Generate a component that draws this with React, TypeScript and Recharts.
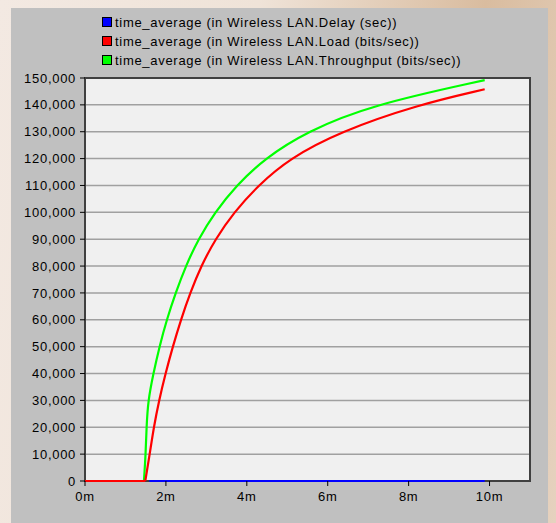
import React from 'react';
import { LineChart, Line, XAxis, YAxis, CartesianGrid, ReferenceArea } from 'recharts';

// minutes / value pairs
const delayTime = [1.59, 9.88];
const delayValue = [0, 0];

const loadTime = [0, 1.49, 1.6, 1.7, 1.83, 1.99, 2.17, 2.37, 2.6, 2.87, 3.22, 3.68, 4.28, 5.05, 6.3, 8.22, 9.88];
const loadValue = [0, 0, 10000, 20000, 30000, 40000, 50000, 60000, 70000, 80000, 90000, 100000, 110000, 120000, 130000, 140000, 145800];

const tputTime = [0, 1.457, 1.5, 1.52, 1.56, 1.69, 1.84, 2.02, 2.24, 2.49, 2.8, 3.21, 3.74, 4.44, 5.47, 7.09, 9.88];
const tputValue = [0, 0, 10000, 20000, 30000, 40000, 50000, 60000, 70000, 80000, 90000, 100000, 110000, 120000, 130000, 140000, 149200];

const xTicks = [0, 2, 4, 6, 8, 10];
const yTicks = [0, 10000, 20000, 30000, 40000, 50000, 60000, 70000, 80000, 90000, 100000, 110000, 120000, 130000, 140000, 150000];

const legendItems = [
  { label: 'time_average (in Wireless LAN.Delay (sec))', color: '#0000ff' },
  { label: 'time_average (in Wireless LAN.Load (bits/sec))', color: '#ff0000' },
  { label: 'time_average (in Wireless LAN.Throughput (bits/sec))', color: '#00ff00' },
];

const toPoints = (t: number[], v: number[]) => t.map((x, i) => ({ t: x, v: v[i] }));

const delayData = toPoints(delayTime, delayValue);
const loadData = toPoints(loadTime, loadValue);
const tputData = toPoints(tputTime, tputValue);

// flat lead-in drawn straight, the rise drawn as a smooth curve
const flat = (d: { t: number; v: number }[]) => d.slice(0, 2);
const rise = (d: { t: number; v: number }[]) => d.slice(1);

const font = '"Liberation Sans", Arial, sans-serif';
const tickStyle = { fill: '#000', fontSize: 13, fontFamily: font, letterSpacing: 0.7 };

const lineProps = { dataKey: 'v', strokeWidth: 2.2, dot: false, activeDot: false, isAnimationActive: false } as const;

export default function App() {
  return (
    <div
      style={{
        position: 'absolute',
        left: 0,
        top: 0,
        width: 556,
        height: 523,
        overflow: 'hidden',
        background: 'linear-gradient(100deg, #f3e9e2 0%, #efe3d8 40%, #d9bc9f 75%, #e6d2bf 100%)',
        fontFamily: font,
      }}
    >
      <div style={{ position: 'absolute', left: 11, top: 8, width: 537, height: 520, background: '#c0c0c0' }} />
      {legendItems.map((it, i) => (
        <div
          key={it.label}
          style={{
            position: 'absolute',
            left: 102,
            top: 14 + i * 19,
            height: 16,
            display: 'flex',
            alignItems: 'center',
            fontSize: 13,
            letterSpacing: 0.7,
            color: '#000',
            whiteSpace: 'nowrap',
          }}
        >
          <span
            style={{
              display: 'inline-block',
              width: 8,
              height: 8,
              background: it.color,
              border: '1px solid #000',
              marginRight: 3,
            }}
          />
          {it.label}
        </div>
      ))}
      <div style={{ position: 'absolute', left: 0, top: 0 }}>
        <LineChart width={556} height={523} margin={{ top: 78, right: 26, left: 0, bottom: 12 }}>
          <CartesianGrid vertical={false} fill="#f0f0f0" stroke="#a0a0a0" strokeWidth={1.5} />
          <ReferenceArea x1={0} x2={11} y1={0} y2={150000} fill="none" stroke="#404040" strokeWidth={2} ifOverflow="visible" />
          <XAxis
            type="number"
            dataKey="t"
            domain={[0, 11]}
            ticks={xTicks}
            tickFormatter={(v: number) => `${v}m`}
            height={30}
            tickSize={5}
            tickMargin={6}
            axisLine={false}
            tickLine={{ stroke: '#000' }}
            tick={tickStyle}
          />
          <YAxis
            type="number"
            dataKey="v"
            domain={[0, 150000]}
            ticks={yTicks}
            tickFormatter={(v: number) => v.toLocaleString('en-US')}
            width={85}
            tickSize={5}
            tickMargin={4}
            axisLine={false}
            tickLine={{ stroke: '#000' }}
            tick={tickStyle}
            interval={0}
          />
          <Line {...lineProps} data={flat(tputData)} type="linear" stroke="#00ff00" />
          <Line {...lineProps} data={rise(tputData)} type="basis" stroke="#00ff00" />
          <Line {...lineProps} data={flat(loadData)} type="linear" stroke="#ff0000" />
          <Line {...lineProps} data={rise(loadData)} type="basis" stroke="#ff0000" />
          <Line {...lineProps} data={delayData} type="linear" stroke="#0000ff" />
        </LineChart>
      </div>
    </div>
  );
}
